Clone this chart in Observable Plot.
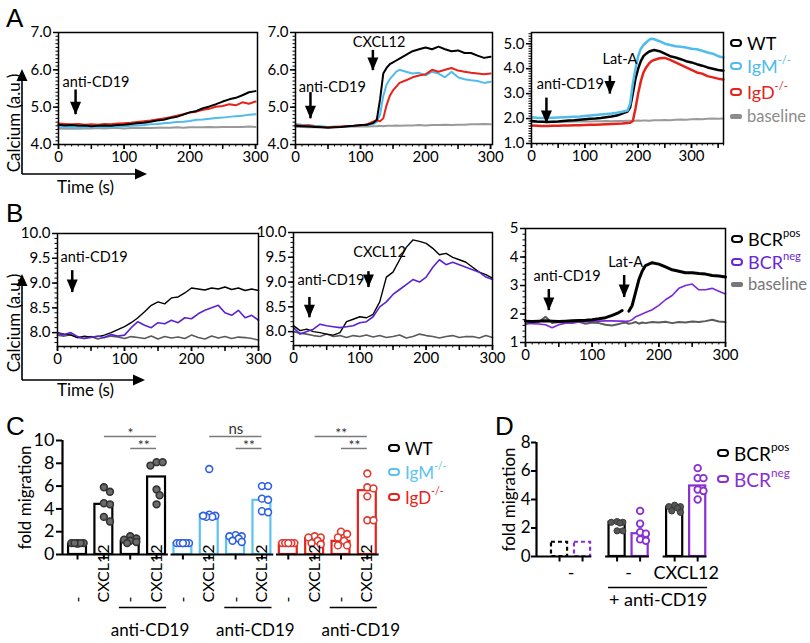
<!DOCTYPE html>
<html><head><meta charset="utf-8">
<script src="https://cdn.jsdelivr.net/npm/d3@7"></script>
<script src="https://cdn.jsdelivr.net/npm/@observablehq/plot@0.6"></script>
<style>
body{margin:0;background:#fff;}
#fig{position:relative;width:810px;height:643px;overflow:hidden;font-family:Lato,sans-serif;color:#000;background:#fff;}
.letter{position:absolute;font-family:"Liberation Sans",Arial,sans-serif;font-size:26px;line-height:26px;}
.leg{position:absolute;display:flex;align-items:center;white-space:nowrap;}
.sw{display:inline-block;box-sizing:border-box;width:12px;height:8px;border:2.5px solid;border-radius:4px;margin-right:5px;}
.sw.bar{height:5px;border-width:0;border-radius:2px;}
.leg sup{font-size:0.62em;position:relative;top:-0.55em;vertical-align:baseline;line-height:0;}
</style></head><body><div id="fig"></div>
<script>
// ---------------- DATA ----------------
const tSec = [0,10,20,30,40,50,60,70,80,90,100,110,120,130,140,150,160,170,180,190,200,210,220,230,240,250,260,270,280,290,300];
// Panel A1
const A1_WT   = [4.53,4.51,4.52,4.50,4.51,4.49,4.50,4.51,4.50,4.52,4.53,4.55,4.57,4.58,4.61,4.64,4.66,4.71,4.74,4.80,4.86,4.90,4.97,5.02,5.08,5.15,5.21,5.25,5.32,5.40,5.43];
const A1_IgM  = [4.47,4.46,4.47,4.45,4.46,4.46,4.47,4.46,4.47,4.48,4.49,4.50,4.51,4.52,4.54,4.55,4.57,4.58,4.60,4.61,4.63,4.66,4.67,4.69,4.71,4.72,4.74,4.76,4.77,4.80,4.81];
const A1_IgD  = [4.56,4.55,4.54,4.55,4.53,4.54,4.53,4.55,4.54,4.56,4.57,4.58,4.60,4.62,4.64,4.67,4.70,4.73,4.77,4.81,4.86,4.88,4.93,4.96,5.01,5.03,5.08,5.05,5.13,5.09,5.15];
const A1_base = [4.43,4.42,4.43,4.42,4.43,4.43,4.44,4.43,4.44,4.44,4.43,4.44,4.44,4.45,4.44,4.45,4.45,4.45,4.46,4.45,4.46,4.46,4.46,4.47,4.46,4.47,4.47,4.47,4.47,4.48,4.47];
// Panel A2
const tA2 = [0,10,20,30,40,50,60,70,80,90,100,110,120,125,130,135,140,145,150,155,160,170,180,190,200,210,220,230,240,250,260,270,280,290,300];
const A2_WT   = [4.50,4.49,4.48,4.47,4.46,4.45,4.46,4.47,4.49,4.50,4.52,4.53,4.58,4.66,5.20,5.90,6.05,6.15,6.20,6.25,6.30,6.40,6.50,6.55,6.60,6.55,6.62,6.55,6.50,6.52,6.45,6.45,6.38,6.32,6.35];
const A2_IgM  = [4.55,4.53,4.52,4.50,4.49,4.47,4.46,4.47,4.48,4.49,4.50,4.52,4.55,4.60,4.80,5.30,5.60,5.75,5.85,5.95,6.00,5.95,5.90,5.92,5.85,5.95,5.90,5.80,5.95,5.80,5.75,5.72,5.70,5.65,5.68];
const A2_IgD  = [4.52,4.50,4.51,4.48,4.47,4.46,4.47,4.48,4.49,4.50,4.51,4.54,4.62,4.65,4.62,4.70,5.05,5.30,5.45,5.55,5.65,5.72,5.80,5.85,5.88,6.00,5.95,6.00,6.05,5.98,5.95,5.92,5.90,5.88,5.90];
const A2_base = [4.47,4.47,4.46,4.47,4.46,4.47,4.48,4.47,4.48,4.48,4.49,4.48,4.49,4.49,4.50,4.49,4.50,4.50,4.50,4.51,4.50,4.51,4.51,4.52,4.51,4.52,4.52,4.53,4.52,4.53,4.53,4.54,4.54,4.55,4.54];
// Panel A3
const tA3 = [0,10,20,30,40,50,60,70,80,90,100,110,120,130,140,150,160,170,180,185,190,195,200,205,210,215,220,225,230,240,250,260,270,280,290,300,310,320,330,340,350,360];
const A3_WT   = [1.90,1.88,1.87,1.86,1.87,1.88,1.90,1.92,1.93,1.95,1.97,1.99,2.00,2.02,2.05,2.08,2.12,2.20,2.28,2.45,3.00,3.60,4.00,4.30,4.50,4.60,4.68,4.72,4.75,4.70,4.60,4.50,4.45,4.38,4.30,4.25,4.18,4.12,4.05,4.00,3.95,3.92];
const A3_IgM  = [2.05,2.03,2.02,2.02,2.03,2.04,2.05,2.06,2.07,2.08,2.10,2.12,2.14,2.16,2.18,2.20,2.23,2.27,2.32,2.60,3.40,4.00,4.50,4.80,4.95,5.05,5.15,5.20,5.18,5.10,5.00,4.95,4.90,4.88,4.85,4.80,4.78,4.72,4.65,4.60,4.50,4.45];
const A3_IgD  = [1.72,1.71,1.70,1.70,1.71,1.71,1.72,1.72,1.73,1.73,1.74,1.75,1.75,1.76,1.77,1.78,1.79,1.80,1.82,1.83,1.90,2.40,3.00,3.50,3.85,4.05,4.20,4.30,4.35,4.42,4.43,4.35,4.25,4.15,4.05,3.95,3.85,3.80,3.70,3.65,3.60,3.57];
const A3_base = [1.86,1.86,1.87,1.86,1.87,1.87,1.88,1.87,1.88,1.88,1.89,1.88,1.89,1.89,1.90,1.89,1.90,1.90,1.91,1.91,1.90,1.91,1.92,1.91,1.92,1.92,1.91,1.92,1.93,1.93,1.94,1.93,1.95,1.96,1.95,1.97,1.98,1.97,1.99,2.00,1.99,2.00];
// Panel B1
const B1_pos  = [8.00,7.97,7.95,7.90,7.93,7.91,7.92,7.95,8.00,8.06,8.12,8.20,8.30,8.42,8.55,8.62,8.58,8.70,8.72,8.80,8.90,8.88,8.86,8.90,8.88,8.92,8.87,8.90,8.85,8.88,8.85];
const B1_neg  = [7.98,7.96,8.00,7.92,7.88,7.90,7.93,7.90,7.96,7.93,7.95,8.10,8.22,8.15,8.10,8.20,8.18,8.25,8.20,8.30,8.28,8.38,8.45,8.50,8.55,8.40,8.35,8.45,8.30,8.35,8.25];
const B1_base = [7.95,7.93,7.96,7.90,7.88,7.92,7.87,7.90,7.93,7.91,7.88,7.92,7.90,7.88,7.93,7.87,7.92,7.89,7.91,7.88,7.95,7.90,7.87,7.93,7.89,7.92,7.88,7.91,7.90,7.88,7.85];
// Panel B2
const B2_pos  = [8.12,8.02,8.05,8.00,7.98,7.95,7.93,7.98,8.20,8.25,8.30,8.28,8.35,8.60,9.10,9.20,9.45,9.70,9.85,9.82,9.78,9.68,9.55,9.58,9.50,9.45,9.40,9.30,9.20,9.15,9.08];
const B2_neg  = [8.08,7.95,8.00,8.05,8.15,8.12,8.10,8.08,8.10,8.12,8.18,8.20,8.30,8.50,8.60,8.75,8.85,8.95,9.05,9.00,9.10,9.30,9.45,9.35,9.40,9.35,9.30,9.25,9.20,9.10,9.05];
const B2_base = [8.00,7.97,7.95,7.92,7.90,7.95,7.90,7.92,7.88,7.92,7.90,7.93,7.89,7.92,7.88,7.90,7.93,7.87,7.90,7.95,7.92,7.90,7.87,7.90,7.92,7.88,7.90,7.90,7.87,7.92,7.88];
// Panel B3
const tB3 = [0,10,20,30,40,50,60,70,80,90,100,110,120,130,140,145,150,155,160,165,170,175,180,190,200,210,220,230,240,250,260,270,280,290,300];
const B3_pos  = [1.75,1.74,1.75,1.76,1.75,1.74,1.75,1.76,1.77,1.78,1.80,1.83,1.87,1.95,2.05,2.12,null,2.10,2.30,2.75,3.20,3.50,3.70,3.80,3.75,3.65,3.55,3.50,3.45,3.45,3.42,3.40,3.35,3.33,3.30];
const B3_neg  = [1.67,1.66,1.65,1.62,1.52,1.62,1.68,1.70,1.72,1.73,1.74,1.75,1.76,1.76,1.75,1.75,1.74,1.75,1.80,1.90,1.95,2.00,2.05,2.15,2.30,2.50,2.65,2.90,3.00,3.05,2.85,2.85,2.90,2.80,2.70];
const B3_base = [1.65,1.70,1.72,1.90,1.68,1.72,1.70,1.68,1.73,1.66,1.70,1.68,1.62,1.60,1.65,1.68,1.70,1.66,1.68,1.72,1.66,1.70,1.68,1.72,1.70,1.73,1.68,1.72,1.70,1.74,1.72,1.75,1.80,1.74,1.72];
// Annotations (time, values in data units)
const A1_notes = [{text:"anti-CD19", tx:6, ty:5.67, ax:26, y1:5.46, y2:4.80}];
const A2_notes = [{text:"anti-CD19", tx:5, ty:5.53, ax:23, y1:5.39, y2:4.69},{text:"CXCL12", tx:88, ty:6.73, ax:119, y1:6.52, y2:5.98}];
const A3_notes = [{text:"anti-CD19", tx:10, ty:3.38, ax:28, y1:2.82, y2:1.80},{text:"Lat-A", tx:133, ty:4.39, ax:147, y1:3.70, y2:2.98}];
const B1_notes = [{text:"anti-CD19", tx:4.5, ty:9.52, ax:22, y1:9.25, y2:8.81}];
const B2_notes = [{text:"anti-CD19", tx:6, ty:9.03, ax:24, y1:8.69, y2:8.28},{text:"CXCL12", tx:90, ty:9.60, ax:113, y1:9.21, y2:8.89}];
const B3_notes = [{text:"anti-CD19", tx:12, ty:3.32, ax:35, y1:2.86, y2:2.12},{text:"Lat-A", tx:124, ty:3.81, ax:148, y1:3.35, y2:2.58}];
// Panel C
const C_groups = ["WT","IgM","IgD"];
const C_cats = ["-","CXCL12","-","CXCL12"];
const C_mean_WT  = [0.90,4.40,1.15,6.80];
const C_mean_IgM = [0.95,3.50,1.50,4.75];
const C_mean_IgD = [0.90,1.40,1.15,5.60];
const C_dots_WT  = [[1.0,1.0,1.0,0.95,1.0,1.0],[5.9,5.5,4.5,4.4,3.3,2.9],[1.6,1.4,1.3,1.2,1.1,1.0],[8.1,8.1,7.8,5.7,5.2,4.4]];
const C_dots_IgM = [[1.0,1.0,1.0,1.0,1.0,1.0],[7.5,3.5,3.4,3.3,3.3,3.4],[1.7,1.6,1.6,1.4,1.2,1.1],[6.0,6.0,4.9,4.8,3.8,3.7]];
const C_dots_IgD = [[1.0,1.0,1.0,1.0,1.0,1.0],[1.6,1.5,1.5,1.2,1.0,0.9],[2.0,1.8,1.5,1.2,0.8,0.8],[7.1,5.9,5.8,5.1,3.0,3.0]];
const C_sig = [{g:0,a:1,b:3,label:"*"},{g:0,a:2,b:3,label:"**"},{g:1,a:1,b:3,label:"ns"},{g:1,a:2,b:3,label:"**"},{g:2,a:1,b:3,label:"**"},{g:2,a:2,b:3,label:"**"}];
const C_yTicks = [0,2,4,6,8,10];
// Panel D
const D_cats = ["-","-","CXCL12"];
const D_mean_pos = [1.0,2.4,3.45];
const D_mean_neg = [1.0,1.6,4.95];
const D_dots_pos = [[],[2.45,2.4,2.4,2.35,1.8,1.8],[3.6,3.5,3.5,3.4,3.2,3.1]];
const D_dots_neg = [[],[3.2,2.3,1.7,1.6,1.2,1.1],[6.2,5.5,5.5,4.7,4.6,4.0]];
const D_yTicks = [0,2,4,6,8];

// ---------------- DRAWING ----------------
const fig = document.getElementById("fig");
const FONT = "Lato, sans-serif";
const COL = {WT:"#000", IgM:"#4fbcec", IgD:"#e6231b", baseA:"#9a9a9a", pos:"#000", neg:"#5b22d2", negD:"#8a2fd0", baseB:"#5a5a5a"};
const HEAD = {draw(ctx){ ctx.moveTo(-5.5,-13); ctx.lineTo(5.5,-13); ctx.lineTo(0,0); ctx.closePath(); }};
const TICK = {draw(ctx){ ctx.moveTo(0,0); ctx.lineTo(0,5); }};

function place(node, left, top){
  node.style.position = "absolute"; node.style.left = left + "px"; node.style.top = top + "px";
  fig.appendChild(node);
}
const range = (a,b,s) => { const r=[]; for(let v=a; v<=b+1e-9; v+=s) r.push(+v.toFixed(3)); return r; };

function linePanel(c){
  const [x0,y0,x1,y1] = c.frame;
  const L = x0-44, T = y0-10, W = (x1-x0)+44+16, H = (y1-y0)+10+28;
  const marks = [
    Plot.axisX({ticks: c.xMinor, tickSize: 2.5, tickFormat: () => "", label: null, strokeWidth: 1}),
    Plot.axisX({ticks: c.xMajor, tickSize: 5, tickFormat: () => "", label: null, strokeWidth: 1.5}),
    Plot.axisX({ticks: c.xLabels, tickSize: 5, tickPadding: 2, label: null, fontSize: 15, strokeWidth: 1.5}),
    Plot.axisY({ticks: c.yMinor, tickSize: 2.5, tickFormat: () => "", label: null, strokeWidth: 1}),
    Plot.axisY({ticks: c.yTicks, tickSize: 5, tickPadding: 2, tickFormat: d3.format(c.yFmt), label: null, fontSize: 15, strokeWidth: 1.5}),
    ...c.series.map(s => Plot.line(s.t.map((t,i) => ({t, v: s.v[i]})), {x: "t", y: "v", stroke: s.color, strokeWidth: s.w})),
    Plot.frame({stroke: "#000", strokeWidth: 1.5}),
    Plot.text(c.notes, {x: "tx", y: "ty", text: "text", textAnchor: "start", fontSize: 14.5}),
    Plot.ruleX(c.notes, {x: "ax", y1: "y1", y2: "y2", strokeWidth: 2.5, stroke: "#000"}),
    Plot.dot(c.notes, {x: "ax", y: "y2", symbol: HEAD, r: 5, fill: "#000", stroke: "none"})
  ];
  const p = Plot.plot({
    width: W, height: H,
    marginLeft: x0-L, marginRight: L+W-x1, marginTop: y0-T, marginBottom: T+H-y1,
    x: {domain: c.xDomain}, y: {domain: c.yDomain},
    style: {background: "transparent", fontFamily: FONT, fontSize: "15px", overflow: "visible", color: "#000"},
    marks
  });
  place(p, L, T);
}

const ser = (t, v, color, w) => ({t, v, color, w});
const xs300 = {xDomain:[0,303], xLabels:[0,100,200,300], xMajor: range(0,300,50), xMinor: range(0,300,10)};
linePanel({...xs300, frame:[58,32,257,144], yDomain:[4,7], yTicks:[4,5,6,7], yMinor: range(4,7,0.1), yFmt:".1f",
  series:[ser(tSec,A1_base,COL.baseA,2), ser(tSec,A1_IgM,COL.IgM,2), ser(tSec,A1_IgD,COL.IgD,2), ser(tSec,A1_WT,COL.WT,2)], notes:A1_notes});
linePanel({...xs300, frame:[295,32,492,144], yDomain:[4,7], yTicks:[4,5,6,7], yMinor: range(4,7,0.1), yFmt:".1f",
  series:[ser(tA2,A2_base,COL.baseA,2), ser(tA2,A2_IgM,COL.IgM,2), ser(tA2,A2_IgD,COL.IgD,2), ser(tA2,A2_WT,COL.WT,2)], notes:A2_notes});
linePanel({xDomain:[0,360], xLabels:[0,100,200,300], xMajor: range(0,350,50), xMinor: range(0,360,10),
  frame:[531,32,723,143], yDomain:[1,5.45], yTicks:[1,2,3,4,5], yMinor: range(1,5.4,0.1), yFmt:".1f",
  series:[ser(tA3,A3_base,COL.baseA,2), ser(tA3,A3_IgD,COL.IgD,2.5), ser(tA3,A3_WT,COL.WT,2.5), ser(tA3,A3_IgM,COL.IgM,2.5)], notes:A3_notes});
const xsB = {xDomain:[0,300], xLabels:[0,100,200,300], xMajor: range(0,300,50), xMinor: range(0,300,10)};
linePanel({...xsB, frame:[57,233,258,346], yDomain:[7.72,10], yTicks:[8,8.5,9,9.5,10], yMinor: range(7.8,10,0.1), yFmt:".1f",
  series:[ser(tSec,B1_base,COL.baseB,1.6), ser(tSec,B1_pos,COL.pos,1.4), ser(tSec,B1_neg,COL.neg,1.6)], notes:B1_notes});
linePanel({...xsB, frame:[293,232,492,345], yDomain:[7.72,10], yTicks:[8,8.5,9,9.5,10], yMinor: range(7.8,10,0.1), yFmt:".1f",
  series:[ser(tSec,B2_base,COL.baseB,1.6), ser(tSec,B2_pos,COL.pos,1.4), ser(tSec,B2_neg,COL.neg,1.6)], notes:B2_notes});
linePanel({...xsB, frame:[525,228,725,342], yDomain:[1,5], yTicks:[1,2,3,4,5], yMinor: range(1,5,0.2), yFmt:"d",
  series:[ser(tB3,B3_base,COL.baseB,2), ser(tB3,B3_neg,"#7a2ad8",1.6), ser(tB3,B3_pos,COL.pos,3)], notes:B3_notes});

// simple beeswarm offsets (px) for dots sharing one category
function swarm(vals, k, r, maxOff){
  const placed = [], out = new Array(vals.length);
  const order = vals.map((_,i)=>i).sort((a,b)=>vals[b]-vals[a]);
  const cands = [0]; for(let s=1; s<=6; s++){ cands.push(s*r*0.9, -s*r*0.9); }
  for(const i of order){
    const y = vals[i]*k; let best = 0, bestScore = -Infinity;
    for(const c of cands){
      if(Math.abs(c) > maxOff) continue;
      let md = Infinity; for(const p of placed) md = Math.min(md, Math.hypot(p.x-c, p.y-y));
      if(md >= 2*r*0.95){ best = c; break; }
      if(md > bestScore){ bestScore = md; best = c; }
    }
    placed.push({x: best, y}); out[i] = best;
  }
  return out;
}

// ---- Panel C ----
{
  const means = [C_mean_WT, C_mean_IgM, C_mean_IgD], dots = [C_dots_WT, C_dots_IgM, C_dots_IgD];
  const barStroke = {WT:"#000", IgM:"#5cc3f0", IgD:"#e6231b"};
  const dotStroke = {WT:"#333", IgM:"#2f5fe2", IgD:"#e23a30"};
  const dotFill = {WT:"#6b6b6b", IgM:"#fff", IgD:"#fff"};
  const step = 26.36, kpx = 11.4;
  const bars = [], pts = [];
  C_groups.forEach((g,gi) => C_cats.forEach((cat,ci) => {
    const idx = gi*4 + ci;
    bars.push({g, idx, cat, mean: means[gi][ci]});
    const vals = dots[gi][ci], off = swarm(vals, kpx, 3.4, 8);
    vals.forEach((v,j) => pts.push({g, x: idx + off[j]/step, v}));
  }));
  const xmin = -0.57;
  const base = C_groups.map((g,gi) => ({x1: gi === 0 ? xmin : gi*4 - 0.45, x2: gi*4 + 3.45}));
  const under = C_groups.map((g,gi) => ({x1: gi*4 + 1.59, x2: gi*4 + 3.38}));
  const sig = C_sig.map(s => ({...s, x1: s.g*4 + s.a + 0.02, x2: s.g*4 + s.b, y: s.a === 1 ? 10.35 : 9.3}));
  const marks = [
    Plot.ruleY(sig, {y: "y", x1: "x1", x2: "x2", stroke: "#7a7a7a", strokeWidth: 1.5}),
    Plot.text(sig.filter(d => d.label !== "ns"), {x: d => (d.x1+d.x2)/2, y: "y", text: "label", dy: -3, fontSize: 14, fill: "#333"}),
    Plot.text(sig.filter(d => d.label === "ns"), {x: d => (d.x1+d.x2)/2, y: "y", text: "label", dy: -7, fontSize: 15, fill: "#333"}),
    ...C_groups.map(g => Plot.rect(bars.filter(d => d.g === g), {x1: d => d.idx-0.34, x2: d => d.idx+0.34, y1: 0, y2: "mean", fill: "#fff", stroke: barStroke[g], strokeWidth: 2.2})),
    ...C_groups.map(g => Plot.dot(pts.filter(d => d.g === g), {x: "x", y: "v", r: 3.4, fill: dotFill[g], stroke: dotStroke[g], strokeWidth: 1.6})),
    Plot.ruleY(base, {y: 0, x1: "x1", x2: "x2", strokeWidth: 2.2, stroke: "#000"}),
    Plot.ruleX([xmin], {y1: 0, y2: 10, strokeWidth: 2.2, stroke: "#000"}),
    Plot.dot(bars, {x: "idx", y: 0, symbol: TICK, r: 5, stroke: "#000", strokeWidth: 2}),
    Plot.axisY({ticks: C_yTicks, tickSize: 6, tickPadding: 2, label: null, fontSize: 18, strokeWidth: 2}),
    Plot.text(bars, {x: "idx", y: 0, text: "cat", rotate: -90, textAnchor: "start", dy: 48, fontSize: 16, fill: "#000"}),
    Plot.ruleY(under, {y: 0, x1: "x1", x2: "x2", dy: 53, strokeWidth: 1.6, stroke: "#000"}),
    Plot.text(under, {x: d => (d.x1+d.x2)/2, y: 0, text: () => "anti-CD19", dy: 76, dx: 7, fontSize: 17}),
    Plot.text(["fold migration"], {frameAnchor: "left", textAnchor: "middle", rotate: -90, dx: -37, fontSize: 17})
  ];
  const p = Plot.plot({width: 400, height: 243, marginLeft: 62, marginRight: 20, marginTop: 40, marginBottom: 89,
    x: {domain: [xmin, 11.5], axis: null}, y: {domain: [0, 10], axis: null},
    style: {background: "transparent", fontFamily: FONT, fontSize: "16px", overflow: "visible", color: "#000"}, marks});
  place(p, 0, 400);
}

// ---- Panel D ----
{
  const step = 23, kpx = 14.2;
  const bars = [], pts = [];
  const M = {pos: D_mean_pos, neg: D_mean_neg}, P = {pos: D_dots_pos, neg: D_dots_neg};
  D_cats.forEach((cat,gi) => ["pos","neg"].forEach((s,k) => {
    const x = gi*2.5 + k;
    bars.push({s, gi, x, mean: M[s][gi]});
    const vals = P[s][gi], off = swarm(vals, kpx, 3.2, 7);
    vals.forEach((v,j) => pts.push({s, x: x + off[j]/step, v}));
  }));
  const xmin = -1;
  const base = D_cats.map((c,gi) => ({x1: gi === 0 ? xmin : gi*2.5 - 0.5, x2: gi*2.5 + 1.4}));
  const under = [{x1: 2.13, x2: 6.43}];
  const col = {pos: "#000", neg: COL.negD};
  const marks = [
    ...["pos","neg"].map(s => Plot.rect(bars.filter(d => d.s === s && d.gi === 0), {x1: d => d.x-0.35, x2: d => d.x+0.35, y1: 0, y2: "mean", fill: "#fff", stroke: col[s], strokeWidth: 2.2, strokeDasharray: "4,3"})),
    ...["pos","neg"].map(s => Plot.rect(bars.filter(d => d.s === s && d.gi > 0), {x1: d => d.x-0.35, x2: d => d.x+0.35, y1: 0, y2: "mean", fill: "#fff", stroke: col[s], strokeWidth: 2.2})),
    Plot.dot(pts.filter(d => d.s === "pos"), {x: "x", y: "v", r: 3.1, fill: "#555", stroke: "#3a3a3a", strokeWidth: 1}),
    Plot.dot(pts.filter(d => d.s === "neg"), {x: "x", y: "v", r: 3.3, fill: "#fff", stroke: COL.negD, strokeWidth: 1.8}),
    Plot.ruleY(base, {y: 0, x1: "x1", x2: "x2", strokeWidth: 2.2, stroke: "#000"}),
    Plot.ruleX([xmin], {y1: 0, y2: 8, strokeWidth: 2.2, stroke: "#000"}),
    Plot.dot(bars, {x: "x", y: 0, symbol: TICK, r: 5, stroke: "#000", strokeWidth: 2}),
    Plot.axisY({ticks: D_yTicks, tickSize: 5, tickPadding: 1, label: null, fontSize: 17, strokeWidth: 2}),
    Plot.text(D_cats.map((c,gi) => ({c, x: gi*2.5 + 0.5})), {x: "x", y: 0, text: "c", dy: 17, fontSize: 18}),
    Plot.ruleY(under, {y: 0, x1: "x1", x2: "x2", dy: 31, strokeWidth: 1.6, stroke: "#000"}),
    Plot.text(under, {x: d => (d.x1+d.x2)/2, y: 0, text: () => "+ anti-CD19", dy: 44, fontSize: 18}),
    Plot.text(["fold migration"], {frameAnchor: "left", textAnchor: "middle", rotate: -90, dx: -27, fontSize: 17})
  ];
  const p = Plot.plot({width: 240, height: 243, marginLeft: 56, marginRight: 9, marginTop: 42, marginBottom: 87,
    x: {domain: [xmin, 6.6], axis: null}, y: {domain: [0, 8], axis: null},
    style: {background: "transparent", fontFamily: FONT, fontSize: "16px", overflow: "visible", color: "#000"}, marks});
  place(p, 480, 400);
}

// ---- Legends ----
function legend(items, left, font){
  items.forEach(it => {
    const f = it.font || font;
    const d = document.createElement("div");
    d.className = "leg";
    d.style.left = left + "px"; d.style.top = (it.cy - f/2) + "px";
    d.style.fontSize = f + "px"; d.style.height = f + "px"; d.style.color = it.text;
    const sw = document.createElement("span");
    sw.className = "sw" + (it.bar ? " bar" : "");
    sw.style.borderColor = it.color; if(it.bar) sw.style.background = it.color;
    d.appendChild(sw);
    d.appendChild(document.createTextNode(it.name));
    if(it.sup){ const s = document.createElement("sup"); s.textContent = it.sup; d.appendChild(s); }
    fig.appendChild(d);
  });
}
legend([{name:"WT", color:"#000", text:"#000", cy:43},
        {name:"IgM", sup:"-/-", color:COL.IgM, text:COL.IgM, cy:66},
        {name:"IgD", sup:"-/-", color:COL.IgD, text:COL.IgD, cy:92},
        {name:"baseline", color:"#8c8c8c", text:"#8c8c8c", bar:true, cy:116, font:16.5}], 730, 18);
legend([{name:"BCR", sup:"pos", color:"#000", text:"#000", cy:239},
        {name:"BCR", sup:"neg", color:"#6a26d6", text:"#6a26d6", cy:262},
        {name:"baseline", color:"#777", text:"#777", bar:true, cy:284, font:16.5}], 731, 18);
legend([{name:"WT", color:"#000", text:"#000", cy:448},
        {name:"IgM", sup:"-/-", color:"#5cc3f0", text:"#5cc3f0", cy:472},
        {name:"IgD", sup:"-/-", color:"#e6231b", text:"#e6231b", cy:497}], 388, 17);
legend([{name:"BCR", sup:"pos", color:"#000", text:"#000", cy:453},
        {name:"BCR", sup:"neg", color:COL.negD, text:COL.negD, cy:479}], 717, 19);

// ---- Panel letters ----
[["A",6,5],["B",6,200],["C",6,413],["D",495,413]].forEach(([t,x,y]) => {
  const d = document.createElement("div"); d.className = "letter"; d.textContent = t;
  d.style.left = x + "px"; d.style.top = y + "px"; fig.appendChild(d);
});

// ---- axis direction arrows (A, B) ----
const ov = document.createElement("div");
ov.innerHTML = `<svg width="810" height="643" style="position:absolute;left:0;top:0;overflow:visible" font-family="Lato, sans-serif">
<g stroke="#000" stroke-width="1.6" fill="none"><path d="M22,174V80M22,174H136"/><path d="M22,380V285M22,380H134"/></g>
<g fill="#000"><path d="M22,69L16.5,81H27.5Z"/><path d="M147,174L135,168.5V179.5Z"/><path d="M22,274L16.5,286H27.5Z"/><path d="M145,380L133,374.5V385.5Z"/></g>
<text x="13" y="123" transform="rotate(-90 13 123)" text-anchor="middle" dominant-baseline="central" font-size="17">Calcium (a.u.)</text>
<text x="57" y="193" font-size="17">Time (s)</text>
<text x="13" y="323" transform="rotate(-90 13 323)" text-anchor="middle" dominant-baseline="central" font-size="17">Calcium (a.u.)</text>
<text x="57" y="396" font-size="17">Time (s)</text>
</svg>`;
fig.appendChild(ov.firstElementChild);
</script></body></html>
